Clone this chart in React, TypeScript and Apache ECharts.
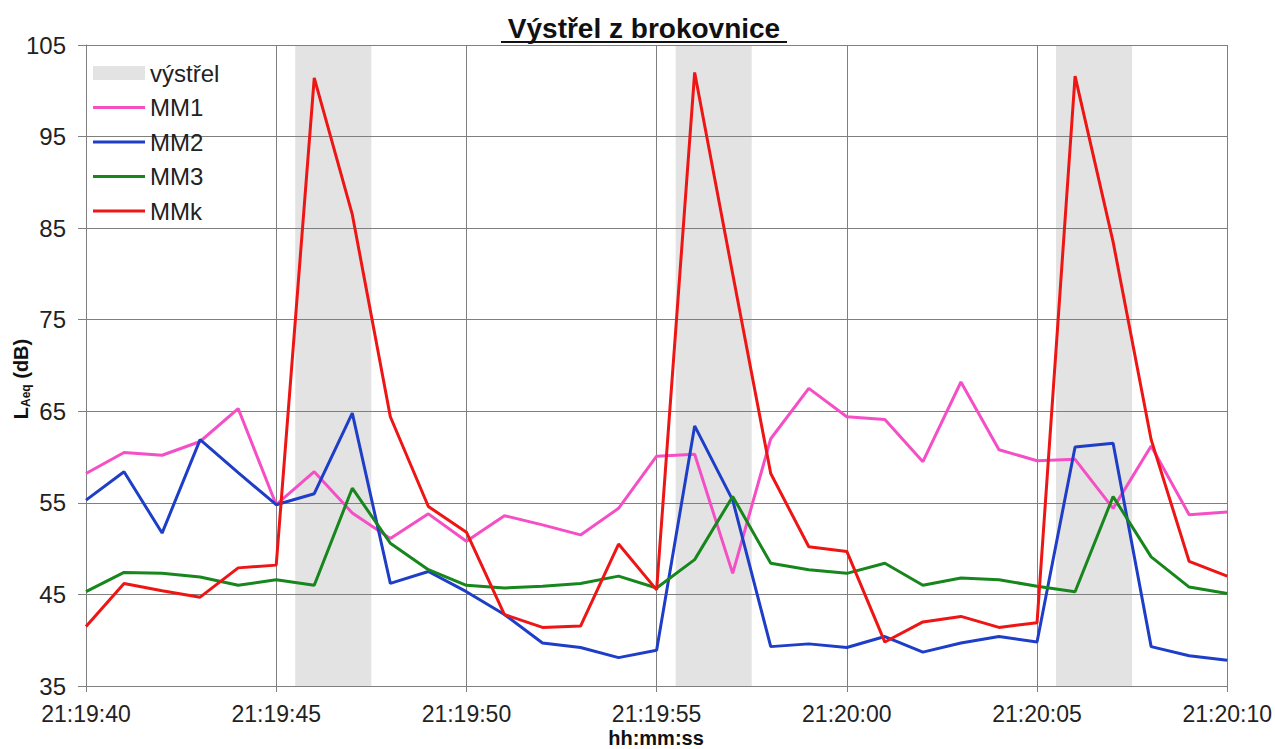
import React, { useEffect, useRef } from "react";
import * as echarts from "echarts";

const times = [
  "21:19:40", "21:19:41", "21:19:42", "21:19:43", "21:19:44", "21:19:45", "21:19:46", "21:19:47",
  "21:19:48", "21:19:49", "21:19:50", "21:19:51", "21:19:52", "21:19:53", "21:19:54", "21:19:55",
  "21:19:56", "21:19:57", "21:19:58", "21:19:59", "21:20:00", "21:20:01", "21:20:02", "21:20:03",
  "21:20:04", "21:20:05", "21:20:06", "21:20:07", "21:20:08", "21:20:09", "21:20:10",
];

const mm1 = [58.2, 60.5, 60.2, 61.7, 65.3, 54.8, 58.4, 53.9, 51.1, 53.8, 50.8, 53.6, 52.6, 51.5, 54.4, 60.1, 60.3, 47.3, 62.0, 67.5, 64.4, 64.1, 59.5, 68.2, 60.8, 59.6, 59.75, 54.4, 61.2, 53.7, 54.0];
const mm2 = [55.3, 58.4, 51.7, 61.9, 58.3, 54.8, 56.0, 64.8, 46.2, 47.5, 45.3, 42.8, 39.7, 39.2, 38.1, 38.9, 63.4, 55.3, 39.3, 39.6, 39.2, 40.4, 38.7, 39.7, 40.4, 39.8, 61.1, 61.5, 39.3, 38.3, 37.8];
const mm3 = [45.3, 47.4, 47.3, 46.9, 46.0, 46.6, 46.0, 56.6, 50.6, 47.7, 46.0, 45.7, 45.9, 46.2, 47.0, 45.7, 48.8, 55.7, 48.4, 47.7, 47.3, 48.4, 46.0, 46.8, 46.6, 45.9, 45.3, 55.7, 49.1, 45.8, 45.1];
const mmk = [41.5, 46.2, 45.4, 44.7, 47.9, 48.2, 101.4, 86.5, 64.4, 54.6, 51.8, 42.8, 41.4, 41.55, 50.5, 45.5, 102.0, 80.0, 58.2, 50.2, 49.7, 39.8, 42.0, 42.6, 41.4, 41.9, 101.6, 83.5, 61.9, 48.6, 47.0];

// shot intervals (start, end) as clock times
const shotBands = [
  ["21:19:45.5", "21:19:47.5"],
  ["21:19:55.5", "21:19:57.5"],
  ["21:20:05.5", "21:20:07.5"],
];

const xTickLabels = ["21:19:40", "21:19:45", "21:19:50", "21:19:55", "21:20:00", "21:20:05", "21:20:10"];
const yTicks = [35, 45, 55, 65, 75, 85, 95, 105];

const seriesNames = ["MM1", "MM2", "MM3", "MMk"];
const seriesColors = ["#f54fc6", "#1e3ec8", "#17861d", "#ee1515"];
const bandName = "výstřel";
const titleText = "Výstřel z brokovnice";
const xAxisTitle = "hh:mm:ss";

const toSec = (t: string) => {
  const [h, m, s] = t.split(":").map(Number);
  return h * 3600 + m * 60 + s;
};
const t0 = toSec(times[0]);
const off = (t: string) => toSec(t) - t0;

const FONT = "'Liberation Sans', Arial, sans-serif";

export default function App() {
  const ref = useRef<HTMLDivElement>(null);
  useEffect(() => {
    if (!ref.current) return;
    const chart = echarts.init(ref.current, null, { renderer: "svg" });
    const seriesData = [mm1, mm2, mm3, mmk];
    const xMax = off(times[times.length - 1]);
    const lineIcon = "path://M0,0h52v3h-52z";
    const option: any = {
      animation: false,
      backgroundColor: "#ffffff",
      textStyle: { fontFamily: FONT },
      grid: { left: 86, top: 45, width: 1142, height: 641, containLabel: false },
      legend: {
        orient: "vertical",
        left: 93,
        top: 61,
        padding: 0,
        itemWidth: 52,
        itemHeight: 14,
        itemGap: 10.5,
        textStyle: { fontSize: 24, lineHeight: 24, color: "#222", fontFamily: FONT },
        data: [
          { name: bandName, icon: "path://M0,0h52v14h-52z" },
          ...seriesNames.map((n) => ({ name: n, icon: lineIcon })),
        ],
      },
      xAxis: {
        type: "value",
        min: 0,
        max: xMax,
        interval: 5,
        axisLine: { show: true, lineStyle: { color: "#7f7f7f", width: 1 } },
        axisTick: { show: true, length: 6, lineStyle: { color: "#7f7f7f" } },
        splitLine: { show: true, lineStyle: { color: "#7f7f7f", width: 1 } },
        axisLabel: {
          color: "#222",
          fontSize: 23,
          lineHeight: 23,
          fontFamily: FONT,
          margin: 16,
          formatter: (v: number) => xTickLabels[Math.round(v / 5)] ?? "",
        },
      },
      yAxis: {
        type: "value",
        min: yTicks[0],
        max: yTicks[yTicks.length - 1],
        interval: 10,
        axisLine: { show: true, lineStyle: { color: "#7f7f7f", width: 1 } },
        axisTick: { show: true, length: 8, lineStyle: { color: "#7f7f7f" } },
        splitLine: { show: true, lineStyle: { color: "#7f7f7f", width: 1 } },
        axisLabel: { color: "#222", fontSize: 24, fontFamily: FONT, margin: 20 },
      },
      graphic: [
        {
          type: "text",
          x: 644,
          y: 28,
          style: {
            text: titleText,
            font: `bold 28px ${FONT}`,
            fill: "#111",
            align: "center",
            verticalAlign: "middle",
          },
        },
        {
          type: "line",
          shape: { x1: 501, y1: 42, x2: 787, y2: 42 },
          style: { stroke: "#111", lineWidth: 2 },
        },
        {
          type: "text",
          x: 656,
          y: 738,
          style: {
            text: xAxisTitle,
            font: `bold 20px ${FONT}`,
            fill: "#111",
            align: "center",
            verticalAlign: "middle",
          },
        },
        {
          type: "text",
          x: 21,
          y: 379,
          rotation: Math.PI / 2,
          style: {
            text: "{a|L}{b|Aeq}{a| (dB)}",
            align: "center",
            verticalAlign: "middle",
            fill: "#111",
            rich: {
              a: { fontSize: 20, fontWeight: "bold", fontFamily: FONT, lineHeight: 22, fill: "#111" },
              b: { fontSize: 12, fontWeight: "bold", fontFamily: FONT, lineHeight: 12, verticalAlign: "bottom", fill: "#111" },
            },
          },
        },
      ],
      series: [
        {
          name: bandName,
          type: "line",
          data: [],
          z: -1,
          itemStyle: { color: "#e3e3e3" },
          lineStyle: { color: "#e3e3e3" },
          markArea: {
            silent: true,
            z: -1,
            itemStyle: { color: "#e3e3e3" },
            data: shotBands.map(([a, b]) => [{ xAxis: off(a) }, { xAxis: off(b) }]),
          },
        },
        ...seriesNames.map((n, k) => ({
          name: n,
          type: "line",
          showSymbol: false,
          symbol: "none",
          itemStyle: { color: seriesColors[k] },
          lineStyle: { color: seriesColors[k], width: 3 },
          data: times.map((t, i) => [off(t), seriesData[k][i]]),
          z: 3,
        })),
      ],
    };
    chart.setOption(option);
    return () => chart.dispose();
  }, []);
  return (
    <div
      ref={ref}
      style={{ position: "fixed", left: 0, top: 0, width: 1275, height: 749, background: "#fff" }}
    />
  );
}
